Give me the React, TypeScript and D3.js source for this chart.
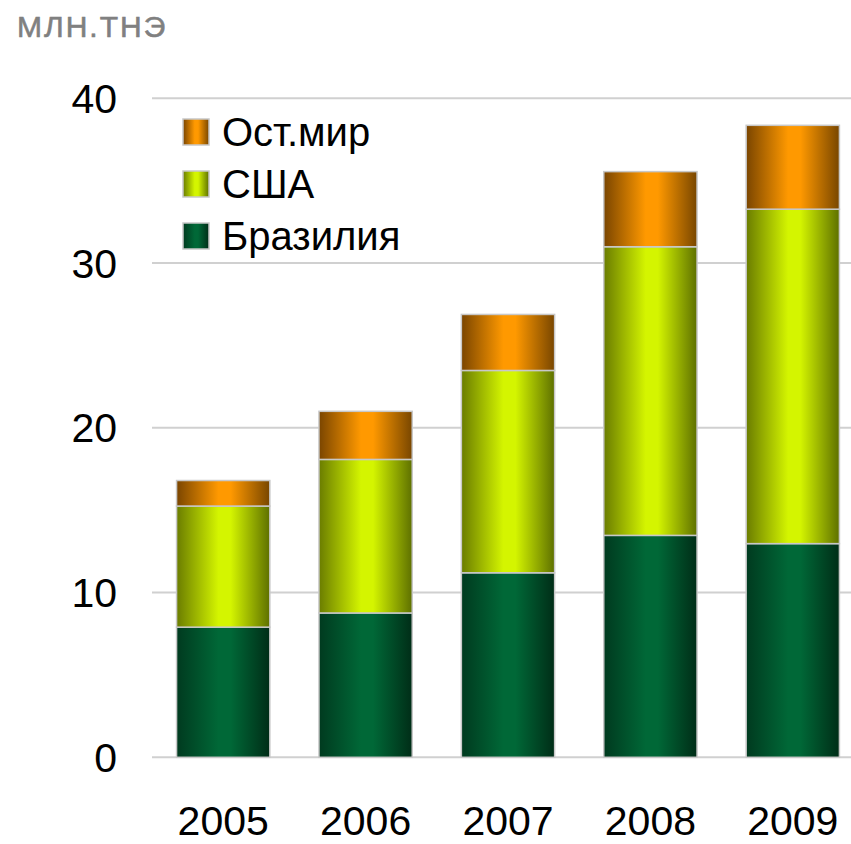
import * as d3 from "d3";

const years = ["2005", "2006", "2007", "2008", "2009"];
const brazil = [7.9, 8.76, 11.2, 13.47, 12.97];
const usa = [7.35, 9.32, 12.28, 17.52, 20.3];
const restOfWorld = [1.55, 2.92, 3.4, 4.56, 5.09];
const yTicks = [0, 10, 20, 30, 40];

const seriesKeys = ["brazil", "usa", "rest"];
const seriesLabels: Record<string, string> = {
  brazil: "Бразилия",
  usa: "США",
  rest: "Ост.мир",
};
// dark edge / bright middle for each series gradient
const palette: Record<string, [string, string, string]> = {
  brazil: ["#003a1f", "#006837", "#002d17"],
  usa: ["#6a7c00", "#d4f500", "#5e7000"],
  rest: ["#7a4500", "#ff9900", "#784600"],
};

const width = 851;
const height = 844;
const font = "'Liberation Sans', Arial, sans-serif";

export default function App() {
  const rows = years.map((year, i) => ({
    year,
    brazil: brazil[i],
    usa: usa[i],
    rest: restOfWorld[i],
  }));

  const x = d3
    .scaleBand()
    .domain(years)
    .range([152, 864])
    .paddingInner(0.345)
    .paddingOuter(0.1725);
  const y = d3.scaleLinear().domain([0, 40]).range([757.3, 98.3]);

  //@ts-ignore
  const stacked = d3.stack().keys(seriesKeys)(rows);

  const legendOrder = ["rest", "usa", "brazil"];

  return (
    <svg
      width={width}
      height={height}
      style={{ position: "absolute", left: 0, top: 0, background: "#fff" }}
      fontFamily={font}
    >
      <defs>
        {seriesKeys.map((k) => (
          <linearGradient key={k} id={`grad-${k}`} x1="0" x2="1" y1="0" y2="0">
            <stop offset="0%" stopColor={palette[k][0]} />
            <stop offset="45%" stopColor={palette[k][1]} />
            <stop offset="58%" stopColor={palette[k][1]} />
            <stop offset="100%" stopColor={palette[k][2]} />
          </linearGradient>
        ))}
      </defs>

      <text
        x={17}
        y={37}
        fontSize={30}
        fill="#808080"
        stroke="#808080"
        strokeWidth={0.6}
        letterSpacing={2}
      >
        МЛН.ТНЭ
      </text>

      {yTicks.map((t) => (
        <g key={t}>
          <line
            x1={152}
            x2={width}
            y1={y(t)}
            y2={y(t)}
            stroke="#d0d0d0"
            strokeWidth={2}
          />
          <text
            x={117}
            y={y(t) + 0.358 * 41}
            fontSize={41}
            textAnchor="end"
            fill="#000"
          >
            {t}
          </text>
        </g>
      ))}

      {stacked.map((layer: any) => (
        <g key={layer.key} fill={`url(#grad-${layer.key})`}>
          {layer.map((d: any, i: number) => (
            <rect
              key={i}
              x={x(d.data.year)}
              y={y(d[1])}
              width={x.bandwidth()}
              height={y(d[0]) - y(d[1])}
              stroke="#c8c8c8"
              strokeWidth={1.5}
            />
          ))}
        </g>
      ))}

      {years.map((yr) => (
        <text
          key={yr}
          x={(x(yr) ?? 0) + x.bandwidth() / 2}
          y={835}
          fontSize={41}
          textAnchor="middle"
          fill="#000"
        >
          {yr}
        </text>
      ))}

      {legendOrder.map((k, i) => {
        const cy = 132 + i * 52;
        return (
          <g key={k}>
            <rect
              x={183}
              y={cy - 13}
              width={26}
              height={26}
              fill={`url(#grad-${k})`}
              stroke="#c8c8c8"
              strokeWidth={1.5}
            />
            <text x={222} y={cy + 0.358 * 40} fontSize={40} fill="#000">
              {seriesLabels[k]}
            </text>
          </g>
        );
      })}
    </svg>
  );
}
